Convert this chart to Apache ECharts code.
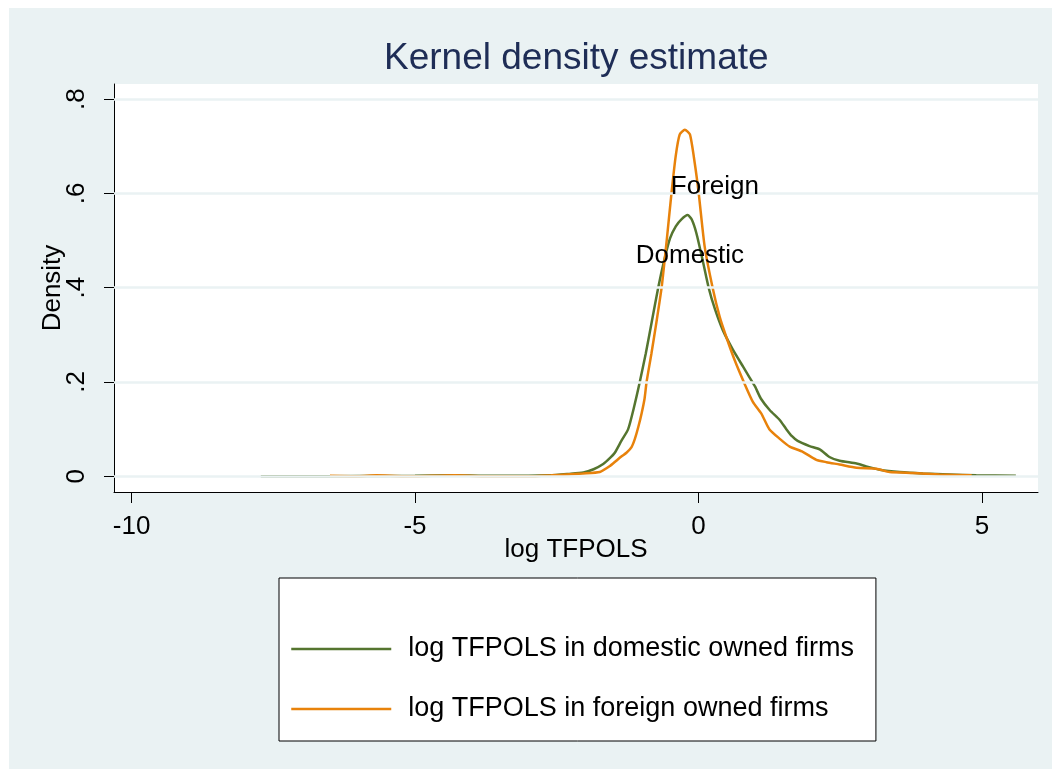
<!DOCTYPE html>
<html>
<head>
<meta charset="utf-8">
<script src="https://cdn.jsdelivr.net/npm/echarts@6/dist/echarts.min.js"></script>
<style>
  html, body { margin: 0; padding: 0; background: #ffffff; }
  #panel { position: absolute; left: 9px; top: 8px; width: 1043px; height: 761px; background: #EAF2F3; }
  #chart { position: absolute; left: 0; top: 0; width: 1052px; height: 769px; }
</style>
</head>
<body>
<div id="panel"></div>
<div id="chart"></div>
<script>
// ---- data ----
const domesticX = [-7.72, -7.0, -6.0, -5.0, -4.3, -3.8, -3.0, -2.62, -2.3, -2.03, -1.85, -1.68, -1.55, -1.475, -1.36, -1.24, -1.14, -1.035, -0.93, -0.82, -0.71, -0.60, -0.50, -0.40, -0.30, -0.19, -0.12, -0.035, 0.08, 0.18, 0.29, 0.43, 0.61, 0.79, 0.90, 1.00, 1.10, 1.26, 1.43, 1.55, 1.65, 1.75, 1.96, 2.14, 2.31, 2.49, 2.79, 2.96, 3.2, 3.55, 3.96, 4.43, 4.9, 5.6];
const domesticY = [0.000, 0.000, 0.0005, 0.001, 0.002, 0.001, 0.001, 0.002, 0.005, 0.008, 0.015, 0.026, 0.040, 0.050, 0.075, 0.100, 0.145, 0.200, 0.260, 0.330, 0.400, 0.460, 0.505, 0.530, 0.545, 0.554, 0.545, 0.515, 0.455, 0.400, 0.355, 0.310, 0.268, 0.232, 0.210, 0.190, 0.165, 0.140, 0.120, 0.100, 0.085, 0.075, 0.064, 0.057, 0.041, 0.033, 0.027, 0.021, 0.014, 0.009, 0.006, 0.004, 0.002, 0.001];

const foreignX = [-6.5, -6.0, -5.68, -5.2, -4.7, -4.3, -3.8, -3.0, -2.6, -2.33, -2.04, -1.74, -1.56, -1.45, -1.36, -1.27, -1.18, -1.12, -1.06, -1.00, -0.95, -0.915, -0.83, -0.75, -0.65, -0.56, -0.476, -0.40, -0.33, -0.24, -0.15, -0.065, 0.005, 0.11, 0.25, 0.375, 0.49, 0.64, 0.80, 0.96, 1.11, 1.25, 1.43, 1.61, 1.84, 2.08, 2.26, 2.49, 2.79, 3.14, 3.37, 3.78, 4.25, 4.82];
const foreignY = [0.001, 0.000, 0.002, 0.000, 0.001, 0.002, 0.000, 0.000, 0.002, 0.004, 0.006, 0.009, 0.022, 0.033, 0.042, 0.050, 0.062, 0.080, 0.105, 0.135, 0.165, 0.200, 0.260, 0.320, 0.400, 0.500, 0.600, 0.680, 0.725, 0.735, 0.725, 0.664, 0.600, 0.487, 0.400, 0.338, 0.296, 0.246, 0.200, 0.158, 0.133, 0.100, 0.080, 0.063, 0.052, 0.035, 0.030, 0.025, 0.018, 0.016, 0.009, 0.007, 0.004, 0.002];

const xTicks = [-10, -5, 0, 5];
const yTicks = [0, 0.2, 0.4, 0.6, 0.8];
const seriesNames = ['log TFPOLS in domestic owned firms', 'log TFPOLS in foreign owned firms'];
const textLabels = ['Foreign', 'Domestic'];
const textLabelX = [0.29, -0.15];
const textLabelY = [0.614, 0.467];

// ---- chart ----
const FONT = "'Liberation Sans', Arial, Helvetica, sans-serif";
const pairs = (xs, ys) => xs.map((x, i) => [x, ys[i]]);
const chart = echarts.init(document.getElementById('chart'), null, { renderer: 'canvas' });

const option = {
  backgroundColor: 'transparent',
  animation: false,
  title: {
    text: 'Kernel density estimate',
    left: 379,
    top: 35,
    textStyle: { fontFamily: FONT, fontSize: 37, fontWeight: 'normal', color: '#1E2D56' }
  },
  grid: {
    left: 114, right: 14, top: 84, bottom: 277,
    show: true, backgroundColor: '#ffffff', borderWidth: 0
  },
  legend: {
    data: seriesNames,
    orient: 'vertical',
    left: 279, top: 578,
    padding: [56, 22, 17, 11],
    itemWidth: 100, itemHeight: 30, itemGap: 30,
    backgroundColor: '#ffffff', borderColor: '#000000', borderWidth: 1,
    itemStyle: { opacity: 0, borderWidth: 0 },
    lineStyle: { width: 2.5 },
    textStyle: { fontFamily: FONT, fontSize: 27, color: '#000000', lineHeight: 30, padding: [0, 0, 0, 12] }
  },
  xAxis: {
    type: 'value', min: -10.31, max: 5.99,
    name: 'log TFPOLS', nameLocation: 'middle', nameGap: 45, nameMoveOverlap: false,
    nameTextStyle: { fontFamily: FONT, fontSize: 26, color: '#000000' },
    axisLine: { show: true, onZero: false, lineStyle: { color: '#000000', width: 1 } },
    axisTick: { show: true, customValues: xTicks, length: 11, lineStyle: { color: '#000000', width: 1 } },
    axisLabel: { customValues: xTicks, fontFamily: FONT, fontSize: 26, color: '#000000', margin: 22 },
    splitLine: { show: false }
  },
  yAxis: {
    type: 'value', min: -0.0333, max: 0.832,
    name: 'Density', nameLocation: 'middle', nameGap: 48, nameMoveOverlap: false,
    nameTextStyle: { fontFamily: FONT, fontSize: 26, color: '#000000' },
    axisLine: { show: true, onZero: false, lineStyle: { color: '#000000', width: 1 } },
    axisTick: { show: true, customValues: yTicks, length: 10, lineStyle: { color: '#000000', width: 1 } },
    axisLabel: {
      customValues: yTicks, rotate: 90, fontFamily: FONT, fontSize: 26, color: '#000000', margin: 24,
      formatter: v => (Math.abs(v) < 1e-9 ? '0' : String(+v.toFixed(1)).replace(/^0/, ''))
    },
    splitLine: { show: false }
  },
  series: [
    {
      name: 'grid', type: 'line', data: [], z: 1, silent: true,
      markLine: {
        silent: true, symbol: ['none', 'none'], label: { show: false },
        lineStyle: { color: '#EAF2F3', width: 2.5, type: 'solid' },
        data: yTicks.map(v => ({ yAxis: v }))
      }
    },
    {
      name: seriesNames[0], type: 'line', data: pairs(domesticX, domesticY),
      symbol: 'none', showSymbol: false, z: 3, smooth: 0.2,
      lineStyle: { color: '#55752F', width: 2.5 }, itemStyle: { color: '#55752F' }
    },
    {
      name: seriesNames[1], type: 'line', data: pairs(foreignX, foreignY),
      symbol: 'none', showSymbol: false, z: 4, smooth: 0.2,
      lineStyle: { color: '#E8820B', width: 2.5 }, itemStyle: { color: '#E8820B' }
    },
    {
      name: 'labels', type: 'scatter', z: 5, symbolSize: 0, silent: true,
      itemStyle: { opacity: 1 },
      data: textLabels.map((t, i) => [textLabelX[i], textLabelY[i], t]),
      label: {
        show: true, position: 'inside', formatter: p => p.data[2],
        fontFamily: FONT, fontSize: 26, color: '#000000', opacity: 1, textBorderWidth: 0
      }
    }
  ]
};
chart.setOption(option);
</script>
</body>
</html>
